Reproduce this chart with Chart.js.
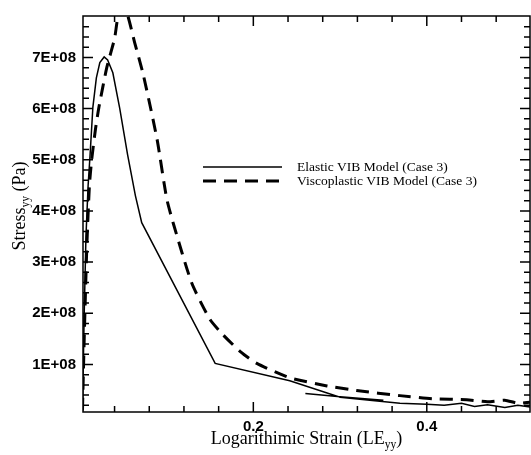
<!DOCTYPE html>
<html>
<head>
<meta charset="utf-8">
<script src="https://cdn.jsdelivr.net/npm/chart.js@4/dist/chart.umd.min.js"></script>
<style>
  html, body { margin: 0; padding: 0; background: #fff; }
  #wrap { width: 531px; height: 455px; position: relative; }
</style>
</head>
<body>
<div id="wrap"><canvas id="main"></canvas></div>
<script>
// Données (contrainte en Pa, déformation logarithmique)
const elasticLabel = 'Elastic VIB Model (Case 3)';
const elasticStrain = [0.003, 0.005, 0.007, 0.0095, 0.0117, 0.015, 0.019, 0.023, 0.028, 0.032, 0.038, 0.046, 0.055, 0.064, 0.0713,
    0.156, 0.242, 0.30, 0.34, 0.369, 0.40, 0.42, 0.44, 0.455, 0.47, 0.49, 0.505, 0.519,
    null, 0.26, 0.30, 0.35];
const elasticStress = [0.1e8, 2.0e8, 3.5e8, 4.5e8, 5.08e8, 6.03e8, 6.6e8, 6.9e8, 7.01e8, 6.95e8, 6.7e8, 6.0e8, 5.1e8, 4.3e8, 3.77e8,
    1.02e8, 0.68e8, 0.36e8, 0.29e8, 0.24e8, 0.22e8, 0.2e8, 0.24e8, 0.18e8, 0.21e8, 0.16e8, 0.2e8, 0.17e8,
    null, 0.43e8, 0.37e8, 0.30e8];

const viscoLabel = 'Viscoplastic VIB Model (Case 3)';
const viscoStrain = [0.003, 0.005, 0.008, 0.011, 0.0136, 0.018, 0.022, 0.031, 0.040, 0.044, 0.050, 0.0555, 0.063, 0.073, 0.089,
    0.100, 0.108, 0.129, 0.150, 0.165, 0.185, 0.204, 0.242, 0.285, 0.319, 0.369, 0.407, 0.446, 0.47, 0.49, 0.505, 0.519];
const viscoStress = [0.1e8, 1.5e8, 3.3e8, 4.5e8, 5.0e8, 5.6e8, 6.03e8, 6.8e8, 7.37e8, 7.8e8, 8.0e8, 7.8e8, 7.3e8, 6.67e8, 5.4e8,
    4.25e8, 3.74e8, 2.59e8, 1.88e8, 1.58e8, 1.25e8, 1.02e8, 0.74e8, 0.58e8, 0.49e8, 0.39e8, 0.33e8, 0.31e8, 0.27e8, 0.3e8, 0.24e8, 0.26e8];

const strainTicks = [0.2, 0.4];
const strainMinorTicks = [0.04, 0.08, 0.12, 0.16, 0.24, 0.28, 0.32, 0.36, 0.44, 0.48];
const stressTicks = [1e8, 2e8, 3e8, 4e8, 5e8, 6e8, 7e8];
const stressMinorTicks = [0.2e8, 0.4e8, 0.6e8, 0.8e8, 1.2e8, 1.4e8, 1.6e8, 1.8e8, 2.2e8, 2.4e8, 2.6e8, 2.8e8,
    3.2e8, 3.4e8, 3.6e8, 3.8e8, 4.2e8, 4.4e8, 4.6e8, 4.8e8, 5.2e8, 5.4e8, 5.6e8, 5.8e8,
    6.2e8, 6.4e8, 6.6e8, 6.8e8, 7.2e8, 7.4e8, 7.6e8];

const serif = '"Liberation Serif", "Times New Roman", serif';
const sans = '"Liberation Sans", Arial, sans-serif';

function toPoints(xs, ys) {
    return xs.map((x, i) => ({ x: x, y: ys[i] }));
}

// Cadre, graduations internes, légende et titres d'axes
const decorPlugin = {
    id: 'decor',
    afterDatasetsDraw(chart) {
        const ctx = chart.ctx;
        const a = chart.chartArea;
        const xs = chart.scales.x;
        const ys = chart.scales.y;
        ctx.save();
        ctx.strokeStyle = '#000';
        ctx.lineWidth = 1.5;
        ctx.strokeRect(a.left, a.top, a.right - a.left, a.bottom - a.top);

        ctx.beginPath();
        const tickX = (v, len) => {
            const p = xs.getPixelForValue(v);
            ctx.moveTo(p, a.bottom); ctx.lineTo(p, a.bottom - len);
            ctx.moveTo(p, a.top); ctx.lineTo(p, a.top + len);
        };
        const tickY = (v, len) => {
            const p = ys.getPixelForValue(v);
            ctx.moveTo(a.left, p); ctx.lineTo(a.left + len, p);
            ctx.moveTo(a.right, p); ctx.lineTo(a.right - len, p);
        };
        strainTicks.forEach(v => tickX(v, 10));
        strainMinorTicks.forEach(v => tickX(v, 6));
        stressTicks.forEach(v => tickY(v, 10));
        stressMinorTicks.forEach(v => tickY(v, 6));
        ctx.lineWidth = 1.5;
        ctx.stroke();

        // légende
        const sets = chart.data.datasets;
        const ly = [167, 181];
        sets.forEach((ds, i) => {
            ctx.beginPath();
            ctx.lineWidth = ds.borderWidth;
            ctx.setLineDash(ds.borderDash || []);
            ctx.moveTo(203, ly[i]);
            ctx.lineTo(282, ly[i]);
            ctx.stroke();
            ctx.setLineDash([]);
            ctx.fillStyle = '#000';
            ctx.font = '13.5px ' + serif;
            ctx.textBaseline = 'middle';
            ctx.textAlign = 'left';
            ctx.fillText(ds.label, 297, ly[i]);
        });

        // titre axe X avec indice
        ctx.textBaseline = 'alphabetic';
        const big = '18px ' + serif, small = '11.5px ' + serif;
        const xParts = ['Logarithimic Strain (LE', 'yy', ')'];
        ctx.font = big; const w0 = ctx.measureText(xParts[0]).width; const w2 = ctx.measureText(xParts[2]).width;
        ctx.font = small; const w1 = ctx.measureText(xParts[1]).width;
        let x0 = (a.left + a.right) / 2 - (w0 + w1 + w2) / 2;
        const by = 444;
        ctx.font = big; ctx.fillText(xParts[0], x0, by);
        ctx.font = small; ctx.fillText(xParts[1], x0 + w0, by + 4);
        ctx.font = big; ctx.fillText(xParts[2], x0 + w0 + w1, by);

        // titre axe Y (pivoté)
        ctx.translate(25, 206);
        ctx.rotate(-Math.PI / 2);
        const yParts = ['Stress', 'yy', ' (Pa)'];
        ctx.font = big; const v0 = ctx.measureText(yParts[0]).width; const v2 = ctx.measureText(yParts[2]).width;
        ctx.font = small; const v1 = ctx.measureText(yParts[1]).width;
        const y0 = -(v0 + v1 + v2) / 2;
        ctx.font = big; ctx.fillText(yParts[0], y0, 0);
        ctx.font = small; ctx.fillText(yParts[1], y0 + v0, 4);
        ctx.font = big; ctx.fillText(yParts[2], y0 + v0 + v1, 0);
        ctx.restore();
    }
};

new Chart(document.getElementById('main').getContext('2d'), {
    type: 'scatter',
    data: {
        datasets: [
            {
                label: elasticLabel,
                data: toPoints(elasticStrain, elasticStress),
                showLine: true,
                spanGaps: false,
                borderColor: '#000',
                borderWidth: 1.5,
                pointRadius: 0,
                tension: 0
            },
            {
                label: viscoLabel,
                data: toPoints(viscoStrain, viscoStress),
                showLine: true,
                borderColor: '#000',
                borderWidth: 3,
                borderDash: [13, 8],
                pointRadius: 0,
                tension: 0.2
            }
        ]
    },
    options: {
        responsive: true,
        maintainAspectRatio: false,
        animation: false,
        layout: { padding: { top: 7, right: 1, left: 0, bottom: 0 } },
        plugins: { legend: { display: false }, tooltip: { enabled: false } },
        scales: {
            x: {
                type: 'linear',
                min: 0.0036,
                max: 0.519,
                grid: { display: false, drawTicks: false },
                border: { display: false },
                afterBuildTicks: s => { s.ticks = strainTicks.map(v => ({ value: v })); },
                afterFit: s => { s.height = 43; },
                ticks: {
                    padding: 6,
                    color: '#000',
                    font: { family: sans, size: 15, weight: 'bold' },
                    callback: v => v.toFixed(1)
                }
            },
            y: {
                type: 'linear',
                min: 7e6,
                max: 7.81e8,
                grid: { display: false, drawTicks: false },
                border: { display: false },
                afterBuildTicks: s => { s.ticks = stressTicks.map(v => ({ value: v })); },
                afterFit: s => { s.width = 83; },
                ticks: {
                    padding: 7,
                    color: '#000',
                    font: { family: sans, size: 15, weight: 'bold' },
                    callback: v => Math.round(v / 1e8) + 'E+08'
                }
            }
        }
    },
    plugins: [decorPlugin]
});
</script>
</body>
</html>
